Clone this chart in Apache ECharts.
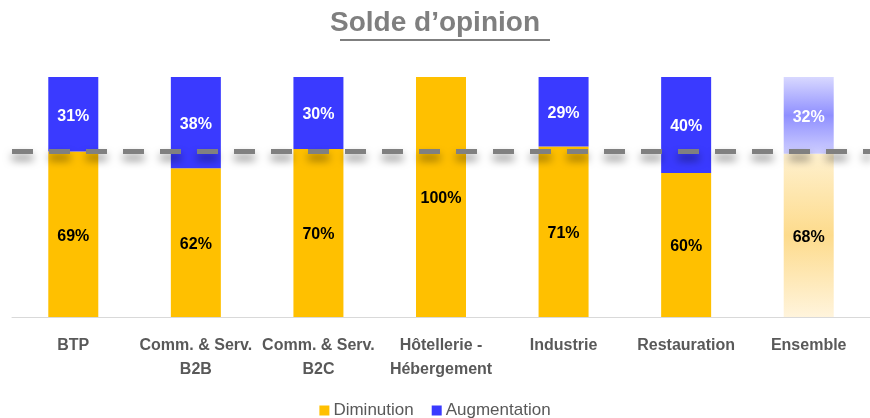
<!DOCTYPE html>
<html>
<head>
<meta charset="utf-8">
<script src="https://cdn.jsdelivr.net/npm/echarts@6/dist/echarts.min.js"></script>
<style>
  html, body { margin: 0; padding: 0; background: #fff; }
  #chart { width: 870px; height: 418px; }
</style>
</head>
<body>
<div id="chart"></div>
<script>
// data
const categories = ["BTP", "Comm. & Serv.\nB2B", "Comm. & Serv.\nB2C", "Hôtellerie -\nHébergement", "Industrie", "Restauration", "Ensemble"];
const diminution = [69, 62, 70, 100, 71, 60, 68];
const augmentation = [31, 38, 30, 0, 29, 40, 32];
const refLine = 69;

const FONT = "'Liberation Sans Narrow', 'Liberation Sans', sans-serif";
const YELLOW = "#FFC000";
const BLUE = "#3A3AFF";
const TEXT_GRAY = "#595959";

// Ensemble bar is drawn faded
const fadedBlue = {
    type: "linear", x: 0, y: 0, x2: 0, y2: 1,
    colorStops: [{offset: 0, color: "#d8d8ff"}, {offset: 0.5, color: "#8f8fff"}, {offset: 1, color: "#cfcfff"}]
};
const fadedYellow = {
    type: "linear", x: 0, y: 0, x2: 0, y2: 1,
    colorStops: [{offset: 0, color: "#fff1cf"}, {offset: 0.5, color: "#fddb8c"}, {offset: 1, color: "#fff4dc"}]
};

const dimData = diminution.map((v, i) => i === categories.length - 1 ? {value: v, itemStyle: {color: fadedYellow}} : v);
const augData = augmentation.map((v, i) => i === categories.length - 1 ? {value: v, itemStyle: {color: fadedBlue}} : v);

const chart = echarts.init(document.getElementById("chart"));
chart.setOption({
    animation: false,
    graphic: [
        {
            type: "text", left: "center", top: 9,
            style: {text: "Solde d’opinion", fill: "#7f7f7f", font: "bold 28px " + FONT}
        },
        {
            type: "rect", shape: {x: 340, y: 39, width: 210, height: 2},
            style: {fill: "#7f7f7f"}
        }
    ],
    grid: {left: 12, width: 866, top: 77, bottom: 101},
    legend: {
        top: 397, left: "center", itemWidth: 10, itemHeight: 10, itemGap: 18,
        icon: "rect",
        textStyle: {color: TEXT_GRAY, fontSize: 17, fontFamily: FONT, padding: [0, 0, 0, -1]},
        data: ["Diminution", "Augmentation"]
    },
    xAxis: {
        type: "category",
        data: categories,
        axisLine: {lineStyle: {color: "#d9d9d9", width: 1}},
        axisTick: {show: false},
        axisLabel: {
            color: TEXT_GRAY, fontWeight: "bold", fontSize: 16, fontFamily: FONT,
            lineHeight: 24, margin: 17, interval: 0
        }
    },
    yAxis: {type: "value", min: 0, max: 100, show: false, splitLine: {show: false}},
    series: [
        {
            name: "Diminution", type: "bar", stack: "s", barWidth: 50,
            itemStyle: {color: YELLOW},
            label: {
                show: true, position: "inside", formatter: p => p.value > 0 ? p.value + "%" : "",
                color: "#000", fontWeight: "bold", fontSize: 16, fontFamily: FONT, offset: [0, 2]
            },
            data: dimData
        },
        {
            name: "Augmentation", type: "bar", stack: "s", barWidth: 50,
            itemStyle: {color: BLUE},
            label: {
                show: true, position: "inside", formatter: p => p.value > 0 ? p.value + "%" : "",
                color: "#fff", fontWeight: "bold", fontSize: 16, fontFamily: FONT, offset: [0, 2]
            },
            data: augData,
            markLine: {
                silent: true, symbol: "none", z: 10,
                label: {show: false},
                lineStyle: {
                    color: "#808080", width: 5, type: [21, 16],
                    shadowColor: "rgba(0,0,0,0.5)", shadowBlur: 8, shadowOffsetY: 6
                },
                data: [{yAxis: refLine}]
            }
        }
    ]
});
</script>
</body>
</html>
